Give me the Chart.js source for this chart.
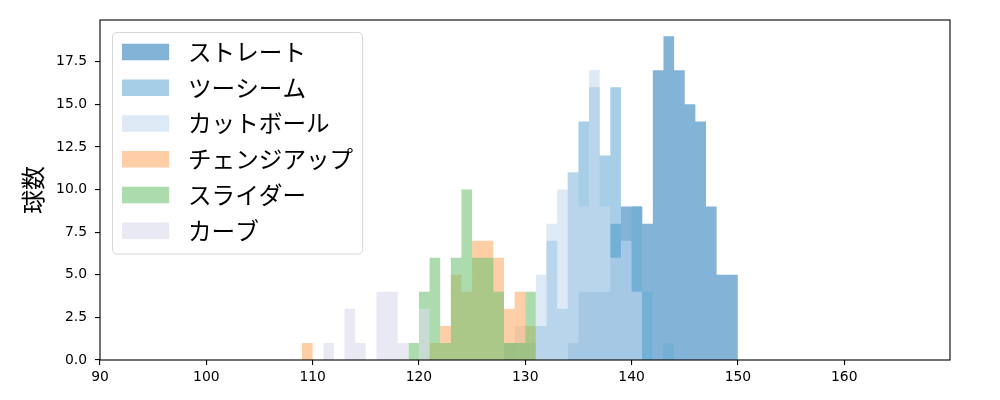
<!DOCTYPE html>
<html>
<head>
<meta charset="utf-8">
<script src="https://cdn.jsdelivr.net/npm/chart.js@4.4.1/dist/chart.umd.min.js"></script>
<style>
  html, body { margin: 0; padding: 0; background: #fff; }
  #wrap { width: 1000px; height: 400px; }
</style>
</head>
<body>
<div id="wrap"><canvas id="speedChart"></canvas></div>
<script>
// pitch types, in the order they are drawn (first = bottom)
const pitchLabels = ['ストレート', 'ツーシーム', 'カットボール', 'チェンジアップ', 'スライダー', 'カーブ'];
const pitchColors = [
  'rgba(49, 130, 189, 0.6)',
  'rgba(107, 174, 214, 0.6)',
  'rgba(198, 219, 239, 0.6)',
  'rgba(253, 174, 107, 0.6)',
  'rgba(116, 196, 118, 0.6)',
  'rgba(218, 218, 235, 0.6)'
];

// counts per 1 km/h bin, starting at the given speed
const straightFrom = 134;
const straightCounts = [1, 4, 4, 4, 8, 9, 9, 8, 17, 19, 17, 15, 14, 9, 5, 5];
const twoSeamFrom = 128;
const twoSeamCounts = [1, 1, 1, 2, 7, 3, 11, 14, 16, 12, 16, 7, 9, 4, 0, 1];
const cutterFrom = 129;
const cutterCounts = [2, 1, 5, 8, 10, 11, 9, 17, 9, 6, 7, 4];
const changeupFrom = 109;
const changeupCounts = [1, 0, 0, 0, 0, 0, 0, 0, 0, 0, 0, 0, 1, 2, 5, 4, 7, 7, 6, 3, 4, 2];
const sliderFrom = 119;
const sliderCounts = [1, 4, 6, 1, 6, 10, 6, 6, 4, 1, 1, 4];
const curveFrom = 111;
const curveCounts = [1, 0, 3, 1, 0, 4, 4, 1, 0, 3];

const xTicks = [90, 100, 110, 120, 130, 140, 150, 160];
const yTicks = [0, 2.5, 5, 7.5, 10, 12.5, 15, 17.5];
const yTitle = '球数';

const seriesFrom = [straightFrom, twoSeamFrom, cutterFrom, changeupFrom, sliderFrom, curveFrom];
const seriesCounts = [straightCounts, twoSeamCounts, cutterCounts, changeupCounts, sliderCounts, curveCounts];

// histogram outline: one point per bin edge, drawn as a filled step line
// (one polygon per pitch, so no seams between neighbouring bins)
function toSteps(from, counts) {
  const pts = counts.map((c, i) => ({ x: from + i, y: c }));
  pts.push({ x: from + counts.length, y: counts[counts.length - 1] });
  return pts;
}

const datasets = pitchLabels.map((label, i) => ({
  label: label,
  data: toSteps(seriesFrom[i], seriesCounts[i]),
  backgroundColor: pitchColors[i],
  borderWidth: 0,
  pointRadius: 0,
  pointHoverRadius: 0,
  stepped: 'before',   // chart.js: horizontal at the previous value, then up/down
  fill: 'origin',
  order: pitchLabels.length - i
}));

const JP_FONT = '"Noto Sans CJK JP", "Noto Sans CJK SC", sans-serif';
const TICK_FONT = '"DejaVu Sans", sans-serif';

// spines on all four sides + matplotlib style legend box
const frameAndLegend = {
  id: 'frameAndLegend',
  afterDraw(chart) {
    const ctx = chart.ctx;
    const a = chart.chartArea;
    ctx.save();
    ctx.strokeStyle = '#000';
    ctx.lineWidth = 1.1;
    ctx.strokeRect(a.left, a.top, a.right - a.left, a.bottom - a.top);

    const fs = 23.6;
    const boxX = a.left + 12.5, boxY = a.top + 12.5;
    const pad = 0.4 * fs, handleW = 2 * fs, handleH = 0.7 * fs, textPad = 0.8 * fs;
    const rowH = 35.75;
    ctx.font = fs + 'px ' + JP_FONT;
    let maxW = 0;
    pitchLabels.forEach(l => { maxW = Math.max(maxW, ctx.measureText(l).width); });
    const boxW = pad + handleW + textPad + maxW + pad;
    const boxH = 221.5;
    const r = 4.5;

    ctx.beginPath();
    ctx.moveTo(boxX + r, boxY);
    ctx.lineTo(boxX + boxW - r, boxY);
    ctx.arcTo(boxX + boxW, boxY, boxX + boxW, boxY + r, r);
    ctx.lineTo(boxX + boxW, boxY + boxH - r);
    ctx.arcTo(boxX + boxW, boxY + boxH, boxX + boxW - r, boxY + boxH, r);
    ctx.lineTo(boxX + r, boxY + boxH);
    ctx.arcTo(boxX, boxY + boxH, boxX, boxY + boxH - r, r);
    ctx.lineTo(boxX, boxY + r);
    ctx.arcTo(boxX, boxY, boxX + r, boxY, r);
    ctx.closePath();
    ctx.fillStyle = 'rgba(255,255,255,0.8)';
    ctx.fill();
    ctx.strokeStyle = 'rgba(204,204,204,0.8)';
    ctx.lineWidth = 1;
    ctx.stroke();

    ctx.textBaseline = 'middle';
    ctx.textAlign = 'left';
    pitchLabels.forEach((label, i) => {
      const cy = a.top + 32 + i * rowH;
      ctx.fillStyle = pitchColors[i];
      ctx.fillRect(boxX + pad, cy - handleH / 2, handleW, handleH);
      ctx.fillStyle = '#000';
      ctx.fillText(label, boxX + pad + handleW + textPad, cy);
    });
    ctx.restore();
  }
};

new Chart(document.getElementById('speedChart'), {
  type: 'line',
  data: { datasets: datasets },
  options: {
    responsive: true,
    maintainAspectRatio: false,
    devicePixelRatio: 1,
    animation: false,
    layout: { padding: { left: 0, top: 20, right: 50, bottom: 0 } },
    plugins: {
      legend: { display: false },
      tooltip: { enabled: false }
    },
    scales: {
      x: {
        type: 'linear',
        min: 90,
        max: 169.95,
        afterBuildTicks: axis => { axis.ticks = xTicks.map(v => ({ value: v })); },
        afterFit: axis => { axis.height = 40; },
        grid: { drawOnChartArea: false, drawTicks: true, tickLength: 5, color: '#000', lineWidth: 1.1 },
        border: { display: false },
        ticks: { font: { family: TICK_FONT, size: 13.9 }, color: '#000', padding: 4, maxRotation: 0 }
      },
      y: {
        min: 0,
        max: 19.95,
        afterBuildTicks: axis => { axis.ticks = yTicks.map(v => ({ value: v })); },
        afterFit: axis => { axis.width = 100; },
        grid: { drawOnChartArea: false, drawTicks: true, tickLength: 5, color: '#000', lineWidth: 1.1 },
        border: { display: false },
        ticks: {
          font: { family: TICK_FONT, size: 13.9 },
          color: '#000',
          padding: 8,
          callback: v => Number(v).toFixed(1)
        },
        title: {
          display: true,
          text: yTitle,
          font: { family: JP_FONT, size: 24 },
          color: '#000',
          padding: { top: 18, bottom: 0 }
        }
      }
    }
  },
  plugins: [frameAndLegend]
});
</script>
</body>
</html>
